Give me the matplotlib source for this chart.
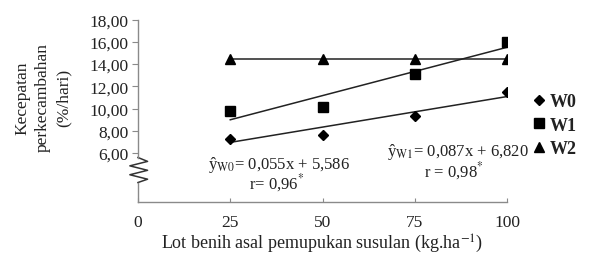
import matplotlib.pyplot as plt
import numpy as np

plt.rcParams['font.family'] = ['Liberation Serif', 'DejaVu Serif']
plt.rcParams['mathtext.fontset'] = 'stix'

# data
dosis = [25, 50, 75, 100]
w0 = [7.3, 7.65, 9.3, 11.45]
w1 = [9.75, 10.1, 13.1, 16.0]
w2 = [14.5, 14.5, 14.5, 14.5]

# regression lines printed on the chart
slope_w0, icpt_w0 = 0.055, 5.586
slope_w1, icpt_w1 = 0.087, 6.820

yticks = [6, 8, 10, 12, 14, 16, 18]
xticks = [0, 25, 50, 75, 100]

fig = plt.figure(figsize=(5.96, 2.55), dpi=100)
ax = fig.add_axes([0.2315, 0.204, 0.6195, 0.715])

txt = '#222222'
grey = '#8a8a8a'

x = np.array(dosis)
ax.plot(x, slope_w0 * x + icpt_w0, color='#222222', lw=1.1)
ax.plot(x, slope_w1 * x + icpt_w1, color='#222222', lw=1.1)
ax.plot(x, w2, color='#222222', lw=1.1)

ax.plot(dosis, w0, 'D', ms=5.5, color='black', ls='none', label='W0')
ax.plot(dosis, w1, 's', ms=7.5, color='black', ls='none', label='W1')
ax.plot(dosis, w2, '^', ms=7, color='black', ls='none', label='W2')

ax.set_xlim(0, 100)
ax.set_ylim(1.6, 18)
ax.set_xticks(xticks)
ax.set_xticklabels([str(v) for v in xticks])
ax.set_yticks(yticks)
ax.set_yticklabels(['%d,00' % v for v in yticks])

for s in ['top', 'right']:
    ax.spines[s].set_visible(False)
ax.spines['left'].set_bounds(5.6, 18)
for s in ['left', 'bottom']:
    ax.spines[s].set_color(grey)
    ax.spines[s].set_linewidth(1)

ax.tick_params(axis='y', direction='out', length=4, color=grey, labelsize=12.5, labelcolor=txt, pad=3)
ax.tick_params(axis='x', direction='in', length=3, color=grey, labelsize=12.5, labelcolor=txt, pad=9)

# broken axis marker
zx = [0, 2.6, -2.2, 2.6, -2.2, 2.6, 0]
zy = [5.6, 5.25, 4.85, 4.45, 4.05, 3.65, 3.35]
ax.plot(zx, zy, color='#333333', lw=1.1, clip_on=False)
ax.plot([0, 0], [1.6, 3.35], color=grey, lw=1, clip_on=False)

ax.set_xlabel('Lot benih asal pemupukan susulan (kg.ha$^{-1}$)', fontsize=13, color=txt, labelpad=1)
fig.text(0.072, 0.616, 'Kecepatan\nperkecambahan\n(%/hari)', rotation=90, ha='center', va='center',
         fontsize=12.5, color=txt, linespacing=1.4)

ax.text(38.2, 5.05, 'ŷ$_{\\mathrm{W0}}$= 0,055x + 5,586', fontsize=12, color=txt, ha='center', va='center')
ax.text(37.5, 3.35, 'r= 0,96$^{*}$', fontsize=12, color=txt, ha='center', va='center')
ax.text(86.7, 6.15, 'ŷ$_{\\mathrm{W1}}$= 0,087x + 6,820', fontsize=12, color=txt, ha='center', va='center')
ax.text(85.5, 4.45, 'r = 0,98$^{*}$', fontsize=12, color=txt, ha='center', va='center')

leg = ax.legend(loc='center left', bbox_to_anchor=(0.862, 0.505), bbox_transform=fig.transFigure,
                frameon=False, handletextpad=0.1, handlelength=1.0, labelspacing=0.35,
                prop={'size': 13, 'weight': 'bold'})
for t in leg.get_texts():
    t.set_color(txt)

plt.savefig('out.png', dpi=100)
